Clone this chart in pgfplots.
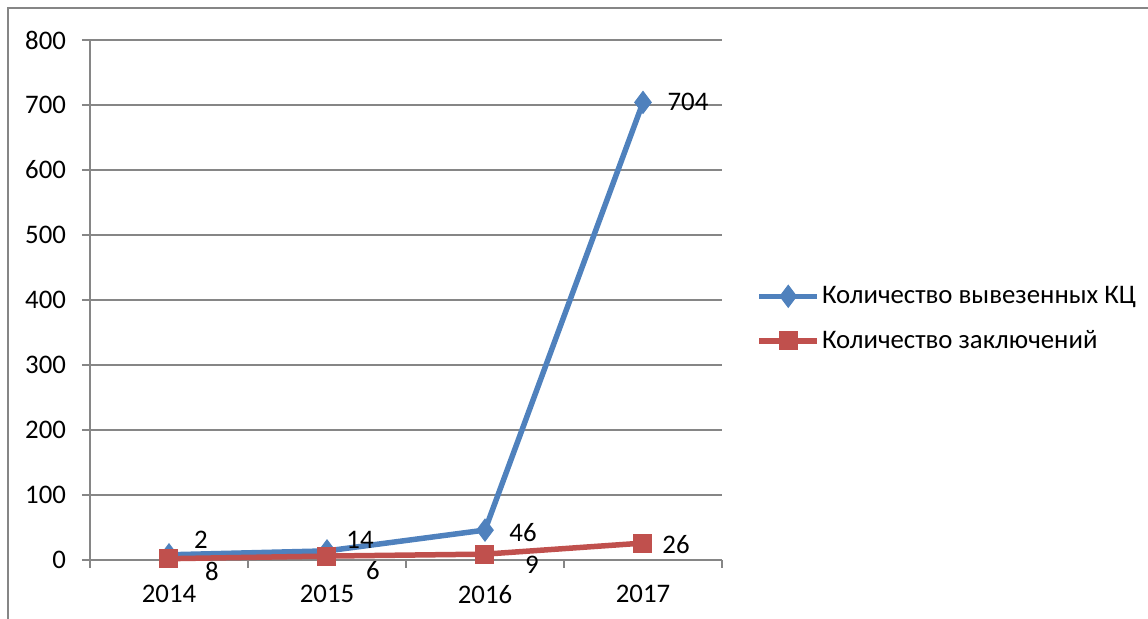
\documentclass[border=0pt]{standalone}
\usepackage{fontspec}
\setmainfont{Carlito}
\usepackage{pgfplots}
\pgfplotsset{compat=1.18}
\usepackage{pgfplotstable}
\definecolor{sblue}{HTML}{4F81BD}
\definecolor{sred}{HTML}{C0504D}
\definecolor{gridc}{HTML}{868686}

\pgfplotstableread{
x y lab dx dy
0 8 2 16 7.5
1 14 14 16.5 5.5
2 46 46 19 -1
3 704 704 22.5 0
}\blueT
\pgfplotstableread{
x y lab dx dy
0 2 8 21.5 -6.5
1 6 6 23 -7
2 9 9 23.5 -5.5
3 26 26 16.5 -0.5
}\redT

\begin{document}
\begin{tikzpicture}
\useasboundingbox (0,0) rectangle (574pt,309.5pt);
\draw[gridc, line width=0.75pt] (4pt,0) -- (4pt,305.5pt) -- (574pt,305.5pt);
\begin{axis}[at={(45pt,29.5pt)}, anchor=south west, scale only axis,
  width=316pt, height=260pt,
  xmin=-0.5, xmax=3.5, ymin=0, ymax=800, ytick={0,100,...,800},
  xtick={-0.5,0.5,1.5,2.5,3.5}, xticklabels={2014,2015,2016,2017},
  x tick label as interval=true,
  axis x line*=bottom, axis y line*=left,
  axis line style={gridc, line width=0.75pt, -},
  tick style={gridc, line width=0.75pt},
  major tick length=4pt, tick align=outside,
  ymajorgrids, grid style={gridc, line width=0.75pt},
  ticklabel style={font=\fontsize{13.4}{15}\selectfont, black},
  /pgf/number format/assume math mode=true,
  yticklabel style={xshift=-4.5pt},
  xticklabel style={yshift=-5pt},
  clip=false,
  legend style={at={(1.054,0.535)}, anchor=north west, draw=none, fill=none,
    font=\fontsize{13.4}{15}\selectfont, row sep=8pt, inner sep=0pt,
    /tikz/every even column/.append style={column sep=0pt},
    nodes={inner xsep=1pt}},
  legend cell align=left,
  legend image code/.code={\draw[mark repeat=2,mark phase=2] plot coordinates {(0pt,0pt)(14.5pt,0pt)(29pt,0pt)};},
  nodes near coords, point meta=explicit symbolic,
  visualization depends on={\thisrow{dx} \as \dx},
  visualization depends on={\thisrow{dy} \as \dy},
  nodes near coords style={anchor=center, xshift=\dx pt, yshift=\dy pt, black, font=\fontsize{13.4}{15}\selectfont},
]
\addplot[sblue, line width=2.75pt, mark=diamond*, mark size=5.5pt, mark options={line width=0.5pt}] table[x=x, y=y, meta=lab] {\blueT};
\addlegendentry{Количество вывезенных КЦ}
\addplot[sred, line width=2.75pt, mark=square*, mark size=4.5pt, mark options={line width=0.5pt}] table[x=x, y=y, meta=lab] {\redT};
\addlegendentry{Количество заключений}
\end{axis}
\end{tikzpicture}
\end{document}
